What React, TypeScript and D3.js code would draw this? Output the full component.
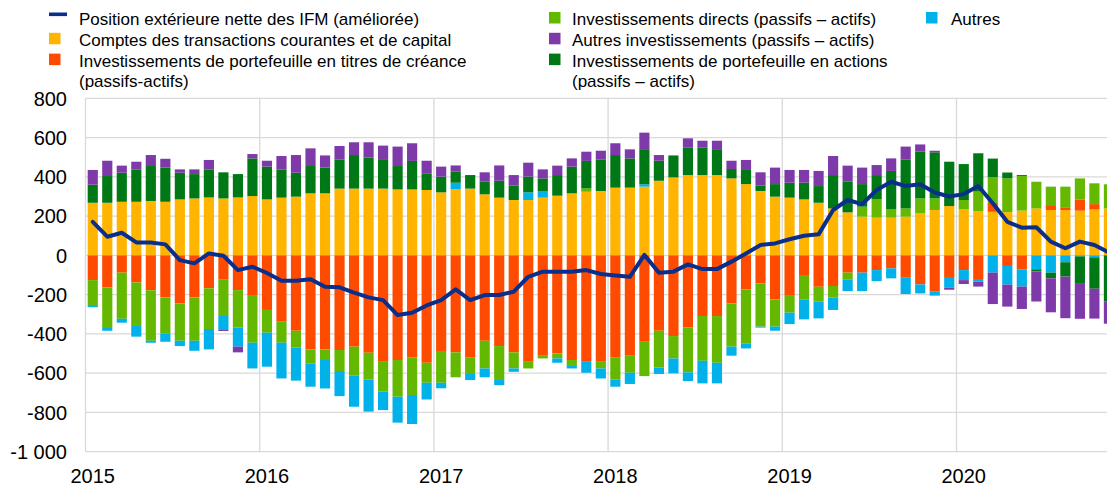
import React from "react";
import * as d3 from "d3";

// ---- Data (EUR billions, monthly, Jan 2015 – Nov 2020) ----
const yearLabels = ["2015", "2016", "2017", "2018", "2019", "2020"];
const yTickValues = [800, 600, 400, 200, 0, -200, -400, -600, -800, -1000];
const yTickLabels = ["800", "600", "400", "200", "0", "-200", "-400", "-600", "-800", "-1 000"];

// Comptes des transactions courantes et de capital
const currentAccount = [
  268, 268, 273, 273, 277, 273, 285, 290, 295, 290, 295, 302,
  285, 294, 299, 316, 316, 340, 340, 340, 340, 336, 336, 333,
  321, 336, 340, 311, 294, 282, 282, 294, 304, 316, 324, 328,
  345, 345, 350, 380, 397, 409, 409, 409, 392, 363, 328, 299,
  294, 285, 268, 239, 219, 197, 192, 192, 197, 214, 231, 251,
  234, 226, 222, 220, 228, 239, 231, 231, 228, 234, 239,
];
// Investissements de portefeuille en titres de créance
const debtPortfolio = [
  -126, -163, -88, -138, -178, -214, -245, -214, -168, -121, -177, -202,
  -278, -338, -384, -479, -479, -482, -465, -496, -542, -533, -521, -547,
  -487, -494, -521, -435, -462, -494, -542, -508, -499, -533, -542, -542,
  -521, -508, -440, -384, -411, -368, -309, -309, -245, -173, -143, -224,
  -202, -100, -160, -156, -88, -88, -75, -66, -114, -148, -185, -115,
  -75, -125, 45, -54, -71, 0, 25, 14, 57, 27, 0,
];
// Investissements directs
const directInvestment = [
  -132, -207, -235, -222, -257, -183, -190, -221, -207, -188, -190, -243,
  -116, -107, -85, -71, -54, -107, -148, -136, -152, -187, -190, -102,
  -162, -127, -83, -141, -173, -82, -34, -17, -26, -26, 17, -34,
  -111, -90, -175, -187, -114, -228, -228, -238, -220, -275, -220, -139,
  -90, -124, -76, -58, -34, 51, 93, 42, 42, 76, 59, 0,
  48, 99, 131, 172, 176, 136, 94, 105, 107, 106, 123,
];
// Autres
const others = [
  -6, -14, -20, -54, -10, -43, -27, -51, -104, -71, -98, -131,
  -173, -182, -169, -119, -145, -128, -158, -164, -94, -132, -148, -85,
  -28, 34, -31, -45, -26, -17, 39, 34, -22, -17, -56, -51,
  -37, -57, 12, -33, -76, -44, -115, -105, -46, -26, -5, -21,
  -58, -102, -85, -64, -60, -94, -56, -51, -83, -46, -20, -50,
  -51, -9, -88, -95, -88, -71, -88, -35, -5, -10, 0,
];
// Investissements de portefeuille en actions
const equityPortfolio = [
  92, 136, 148, 165, 178, 174, 136, 124, 143, 133, 119, 192,
  167, 144, 122, 139, 131, 149, 171, 158, 146, 119, 145, 85,
  80, 56, 69, 64, 86, 73, 80, 64, 105, 136, 140, 161,
  166, 149, 175, 102, 112, 141, 141, 128, 48, 72, 27, 64,
  76, 85, 85, 170, 156, 115, 124, 196, 250, 238, 235, 226,
  183, 195, 95, 30, 5, -11, -29, -73, -140, -160, -236,
];
// Autres investissements
const otherInvestment = [
  75, 78, 36, 39, 56, 45, 17, 24, 48, -5, -29, 22,
  30, 68, 90, 90, 62, 68, 65, 78, 73, 99, 90, 64,
  51, 32, 0, 48, 78, 54, 71, 46, 48, 42, 47, 44,
  60, 46, 88, 29, 0, 46, 34, 47, 42, 51, 68, 84,
  65, 65, 77, 97, 82, 84, 51, 64, 65, 37, 8, -10,
  -20, -25, -160, -112, -114, -153, -173, -212, -178, -152, -112,
];
// Position extérieure nette des IFM (améliorée)
const netPosition = [
  171, 95, 115, 66, 65, 56, -24, -41, 10, -2, -75, -58,
  -90, -129, -129, -122, -160, -163, -190, -214, -228, -304, -292, -255,
  -228, -173, -228, -202, -202, -185, -109, -83, -83, -83, -75, -95,
  -102, -109, 2, -88, -83, -46, -70, -70, -32, 10, 53, 61,
  82, 100, 107, 231, 282, 261, 333, 375, 353, 362, 320, 300,
  312, 353, 265, 171, 141, 143, 70, 36, 70, 53, 14,
];

const seriesKeys = ["current", "debt", "direct", "others", "equity", "otherInv"];
const seriesColors: Record<string, string> = {
  current: "#FFB400",
  debt: "#FF4B00",
  direct: "#65B800",
  others: "#00B1EA",
  equity: "#007816",
  otherInv: "#7D3AA8",
};
const lineColor = "#0A2E8C";

const W = 1107;
const H = 487;
const FONT = "'Liberation Sans', Arial, Helvetica, sans-serif";

export default function App() {
  const n = netPosition.length;
  const x = d3
    .scaleBand<number>()
    .domain(d3.range(72))
    .range([85.5, 1130.7])
    .paddingInner(0.3)
    .paddingOuter(0.15);
  const y = d3.scaleLinear().domain([-1000, 800]).range([451.7, 98.3]);
  const bw = x.bandwidth();
  const outer = x.step() * x.paddingOuter();

  const rows = d3.range(n).map((i) => ({
    current: currentAccount[i],
    debt: debtPortfolio[i],
    direct: directInvestment[i],
    others: others[i],
    equity: equityPortfolio[i],
    otherInv: otherInvestment[i],
  }));
  const stacked = d3
    .stack<any>()
    .keys(seriesKeys)
    .offset(d3.stackOffsetDiverging)(rows);

  const linePath = d3
    .line<number>()
    .x((_, i) => (x(i) as number) + bw / 2)
    .y((d) => y(d))(netPosition);

  const plotLeft = 85.5;
  const yearX = (k: number) => (x(k * 12) as number) - outer;

  const legendCol1 = [
    { type: "line", color: lineColor, text: "Position extérieure nette des IFM (améliorée)" },
    { type: "sq", color: seriesColors.current, text: "Comptes des transactions courantes et de capital" },
    { type: "sq", color: seriesColors.debt, text: "Investissements de portefeuille en titres de créance" },
    { type: "none", color: "", text: "(passifs-actifs)" },
  ];
  const legendCol2 = [
    { type: "sq", color: seriesColors.direct, text: "Investissements directs (passifs – actifs)" },
    { type: "sq", color: seriesColors.otherInv, text: "Autres investissements (passifs – actifs)" },
    { type: "sq", color: seriesColors.equity, text: "Investissements de portefeuille en actions" },
    { type: "none", color: "", text: "(passifs – actifs)" },
  ];
  const baselines = [25, 45.8, 66.6, 87.4];

  const renderLegend = (items: any[], sqX: number, txtX: number) =>
    items.map((it, i) => (
      <g key={i}>
        {it.type === "line" && (
          <rect x={sqX} y={baselines[i] - 12.5} width={18} height={3.6} fill={it.color} />
        )}
        {it.type === "sq" && (
          <rect x={sqX} y={baselines[i] - 13} width={11.5} height={11.5} fill={it.color} />
        )}
        <text x={txtX} y={baselines[i]} fontSize={17} fill="#000" fontFamily={FONT}>
          {it.text}
        </text>
      </g>
    ));

  return (
    <svg
      width={W}
      height={H}
      style={{ position: "absolute", left: 0, top: 0, background: "#fff" }}
    >
      <rect x={0} y={0} width={W} height={H} fill="#fff" />
      {/* horizontal grid */}
      {yTickValues.map((t) => (
        <line key={t} x1={plotLeft} x2={W} y1={y(t)} y2={y(t)} stroke="#d9d9d9" strokeWidth={1.3} />
      ))}
      {/* vertical year grid */}
      {yearLabels.map((_, k) => (
        <line key={k} x1={yearX(k)} x2={yearX(k)} y1={y(800)} y2={y(-1000)} stroke="#d9d9d9" strokeWidth={1.3} />
      ))}
      {/* bars */}
      {stacked.map((s) => (
        <g key={s.key} fill={seriesColors[s.key]}>
          {s.map((d, i) => {
            const y0 = y(d[0]);
            const y1 = y(d[1]);
            const h = Math.abs(y0 - y1);
            if (h < 0.01) return null;
            return <rect key={i} x={x(i)} y={Math.min(y0, y1)} width={bw} height={h} />;
          })}
        </g>
      ))}
      {/* net position line */}
      <path d={linePath || ""} fill="none" stroke={lineColor} strokeWidth={4} strokeLinejoin="round" strokeLinecap="round" />
      {/* y tick labels */}
      {yTickValues.map((t, i) => (
        <text key={t} x={67} y={y(t)} dy="0.36em" textAnchor="end" fontSize={20} fontFamily={FONT} fill="#000">
          {yTickLabels[i]}
        </text>
      ))}
      {/* x tick labels */}
      {yearLabels.map((lab, k) => (
        <text key={lab} x={(x(k * 12) as number) + bw / 2} y={483} textAnchor="middle" fontSize={20} fontFamily={FONT} fill="#000">
          {lab}
        </text>
      ))}
      {/* legend */}
      {renderLegend(legendCol1, 49, 79)}
      {renderLegend(legendCol2, 549, 572)}
      {renderLegend([{ type: "sq", color: seriesColors.others, text: "Autres" }], 926, 951)}
    </svg>
  );
}
